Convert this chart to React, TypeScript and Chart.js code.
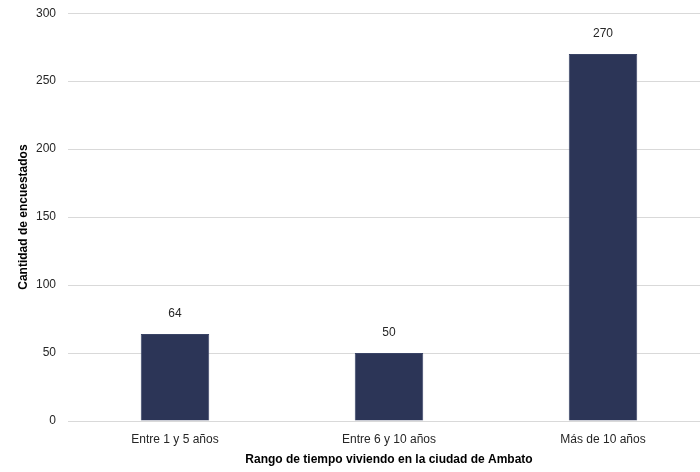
import { useEffect, useRef } from 'react';
import { Chart, registerables } from 'chart.js';

Chart.register(...registerables);

const categories = ['Entre 1 y 5 años', 'Entre 6 y 10 años', 'Más de 10 años'];
const respondents = [64, 50, 270];
const yTicks = [0, 50, 100, 150, 200, 250, 300];

const FONT = '"Liberation Sans", Arial, sans-serif';

// draws the count above each bar
const valueLabels = {
  id: 'valueLabels',
  afterDatasetsDraw(chart: Chart) {
    const ctx = chart.ctx;
    const meta = chart.getDatasetMeta(0);
    ctx.save();
    ctx.font = `12px ${FONT}`;
    ctx.fillStyle = '#262626';
    ctx.textAlign = 'center';
    ctx.textBaseline = 'middle';
    meta.data.forEach((bar: any, i: number) => {
      ctx.fillText(String(respondents[i]), bar.x, bar.y - 20);
    });
    ctx.restore();
  },
};

export default function App() {
  const chartRef = useRef<HTMLCanvasElement>(null);
  const chartInstance = useRef<Chart | null>(null);

  useEffect(() => {
    document.body.style.margin = '0';
    if (!chartRef.current) return;
    const ctx = chartRef.current.getContext('2d');
    if (!ctx) return;

    if (chartInstance.current) {
      chartInstance.current.destroy();
    }

    chartInstance.current = new Chart(ctx, {
      type: 'bar',
      data: {
        labels: categories,
        datasets: [
          {
            data: respondents,
            backgroundColor: '#2C3557',
            borderColor: '#3A4466',
            borderWidth: 1,
            categoryPercentage: 1,
            barPercentage: 0.32,
          },
        ],
      },
      options: {
        animation: false,
        responsive: false,
        layout: { padding: { top: 7, right: 0, left: 0, bottom: 0 } },
        plugins: {
          legend: { display: false },
          tooltip: { enabled: false },
        },
        scales: {
          x: {
            grid: { display: false },
            border: { display: false },
            ticks: {
              color: '#262626',
              font: { family: FONT, size: 12 },
              padding: 3,
            },
            title: {
              display: true,
              text: 'Rango de tiempo viviendo en la ciudad de Ambato',
              color: '#000',
              font: { family: FONT, size: 12, weight: 'bold' },
              padding: { top: 6, bottom: 5 },
            },
            afterFit(scale: any) {
              scale.height = 51;
            },
          },
          y: {
            min: 0,
            max: 300,
            afterBuildTicks(scale: any) {
              scale.ticks = yTicks.map((v) => ({ value: v }));
            },
            grid: { color: '#D9D9D9', lineWidth: 1, drawTicks: false },
            border: { display: false },
            ticks: {
              color: '#262626',
              font: { family: FONT, size: 12 },
              padding: 12,
            },
            title: {
              display: true,
              text: 'Cantidad de encuestados',
              color: '#000',
              font: { family: FONT, size: 12, weight: 'bold' },
              padding: { top: 16, bottom: 4 },
            },
            afterFit(scale: any) {
              scale.width = 68;
            },
          },
        },
      },
      plugins: [valueLabels],
    });

    return () => {
      if (chartInstance.current) {
        chartInstance.current.destroy();
        chartInstance.current = null;
      }
    };
  }, []);

  // the plot runs a little past the right edge and top in the reference
  return (
    <div style={{ width: 700, height: 472, overflow: 'hidden', background: '#fff' }}>
      <canvas
        ref={chartRef}
        width={710}
        height={478}
        style={{ display: 'block', marginTop: -6 }}
      />
    </div>
  );
}
